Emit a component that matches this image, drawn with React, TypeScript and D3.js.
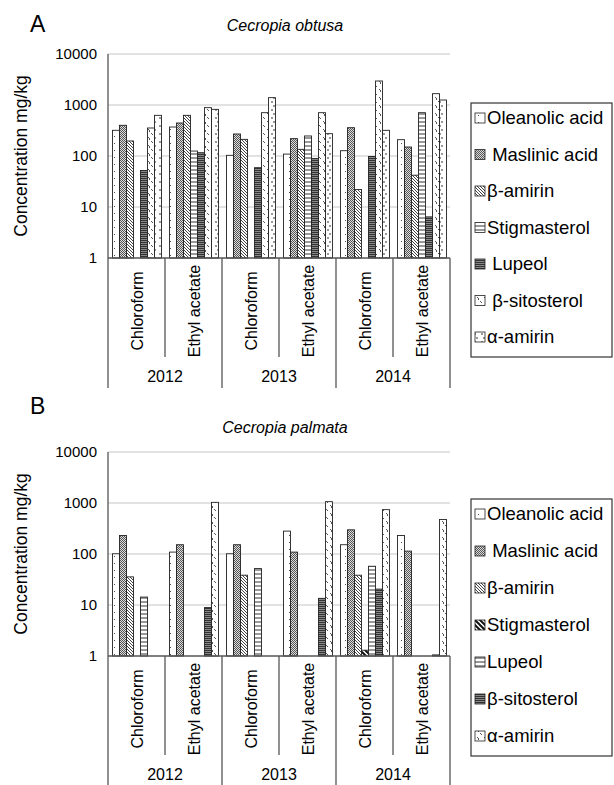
import React from 'react';
import * as d3 from 'd3';

// categories on the x axis
const years = ['2012', '2013', '2014'];
const solvents = ['Chloroform', 'Ethyl acetate'];
const categories = years.flatMap((y) => solvents.map((s) => `${y}|${s}`));

const seriesNames = ['Oleanolic acid', 'Maslinic acid', 'β-amirin', 'Stigmasterol', 'Lupeol', 'β-sitosterol', 'α-amirin'];
const legendLabelsA = ['Oleanolic acid', ' Maslinic acid', 'β-amirin', 'Stigmasterol', ' Lupeol', ' β-sitosterol', 'α-amirin'];
const legendLabelsB = ['Oleanolic acid', ' Maslinic acid', 'β-amirin', 'Stigmasterol', 'Lupeol', 'β-sitosterol', 'α-amirin'];
const yTicks = [1, 10, 100, 1000, 10000];

// Cecropia obtusa (mg/kg), order = categories, null = not detected
const oleanolicA = [319, 370, 103, 109, 127, 209];
const maslinicA = [400, 444, 270, 219, 359, 150];
const bAmirinA = [197, 627, 212, 135, 22, 42];
const stigmasterolA = [null, 125, null, 247, null, 707];
const lupeolA = [52, 116, 59, 89, 98, 6.4];
const bSitosterolA = [354, 887, 707, 707, 2955, 1667];
const aAmirinA = [627, 822, 1393, 274, 319, 1253];

// Cecropia palmata (mg/kg)
const oleanolicB = [101, 109, 101, 281, 152, 231];
const maslinicB = [231, 152, 152, 109, 298, 114];
const bAmirinB = [35.6, null, 38.4, null, 38.4, null];
const stigmasterolB = [null, null, null, null, 1.3, null];
const lupeolB = [14.3, null, 51.8, null, 57.5, null];
const bSitosterolB = [null, 8.9, null, 13.5, 20.5, 1.05];
const aAmirinB = [null, 1030, null, 1062, 741, 474];

const valuesA = [oleanolicA, maslinicA, bAmirinA, stigmasterolA, lupeolA, bSitosterolA, aAmirinA];
const valuesB = [oleanolicB, maslinicB, bAmirinB, stigmasterolB, lupeolB, bSitosterolB, aAmirinB];

// fill pattern per series in each panel
const patternsA = ['p-dots', 'p-check', 'p-diag', 'p-hline', 'p-dense', 'p-wave', 'p-dash'];
const patternsB = ['p-dots', 'p-check', 'p-diag', 'p-bold', 'p-hline', 'p-dense', 'p-wave'];

const FONT = '"Liberation Sans", Arial, Helvetica, sans-serif';
const W = 614;
const H = 785;
const LEFT = 108;
const RIGHT = 450;

function Patterns() {
  return (
    <defs>
      <pattern id="p-dots" width="7" height="7" patternUnits="userSpaceOnUse">
        <rect width="7" height="7" fill="#fff" />
        <rect x="2" y="3" width="1" height="1" fill="#555" />
      </pattern>
      <pattern id="p-check" width="2" height="2" patternUnits="userSpaceOnUse">
        <rect width="2" height="2" fill="#ddd" />
        <rect width="1" height="1" fill="#555" />
        <rect x="1" y="1" width="1" height="1" fill="#555" />
      </pattern>
      <pattern id="p-diag" width="3" height="3" patternUnits="userSpaceOnUse">
        <rect width="3" height="3" fill="#fff" />
        <path d="M-1,-1 L4,4 M-1,2 L1,4 M2,-1 L4,1" stroke="#444" strokeWidth="1" />
      </pattern>
      <pattern id="p-bold" width="5" height="5" patternUnits="userSpaceOnUse">
        <rect width="5" height="5" fill="#fff" />
        <path d="M-1,-1 L6,6 M-1,4 L1,6 M4,-1 L6,1" stroke="#111" strokeWidth="2" />
      </pattern>
      <pattern id="p-hline" width="4" height="4" patternUnits="userSpaceOnUse">
        <rect width="4" height="4" fill="#fff" />
        <rect y="1.5" width="4" height="1" fill="#333" />
      </pattern>
      <pattern id="p-dense" width="4" height="2" patternUnits="userSpaceOnUse">
        <rect width="4" height="2" fill="#888" />
        <rect width="4" height="1" fill="#333" />
      </pattern>
      <pattern id="p-wave" width="7" height="8" patternUnits="userSpaceOnUse">
        <rect width="7" height="8" fill="#fff" />
        <path d="M1,1 L3,3 L2,4 M4,5 L6,7" stroke="#444" strokeWidth="0.9" fill="none" />
      </pattern>
      <pattern id="p-dash" width="7" height="8" patternUnits="userSpaceOnUse">
        <rect width="7" height="8" fill="#fff" />
        <path d="M0,2 L2,2 M5,6 L7,6" stroke="#333" strokeWidth="1" />
      </pattern>
    </defs>
  );
}

function Panel({ top, letter, letterY, title, titleY, values, patterns, legendLabels, legendTop, legendStep, yearTickEnd }) {
  const y = d3.scaleLog().domain([1, 10000]).range([top + 204, top]);
  const base = y(1);
  const x0 = d3.scaleBand().domain(categories).range([LEFT, RIGHT]);
  const x1 = d3.scaleBand().domain(seriesNames).range([4.5, x0.bandwidth() - 3.5]);
  const catW = x0.bandwidth();

  const legendBottom = legendTop + legendStep * 6 + 20;

  return (
    <g fontFamily={FONT}>
      <text x={30} y={letterY} fontSize={23}>{letter}</text>
      <text x={(LEFT + RIGHT) / 2 + 6} y={titleY} fontSize={16} fontStyle="italic" textAnchor="middle">{title}</text>

      {/* grid */}
      {yTicks.slice(1).map((t) => (
        <line key={t} x1={LEFT} x2={RIGHT} y1={y(t)} y2={y(t)} stroke="#d9d9d9" strokeWidth={1.5} />
      ))}
      {yTicks.map((t) => (
        <text key={t} x={97} y={y(t)} dy="0.35em" fontSize={15} textAnchor="end">{t}</text>
      ))}
      <text transform={`translate(27,${(top + base) / 2}) rotate(-90)`} fontSize={17.5} textAnchor="middle">Concentration mg/kg</text>

      {/* bars */}
      {values.map((vals, si) => (
        <g key={si}>
          {vals.map((v, ci) => v == null ? null : (
            <rect key={ci}
              x={x0(categories[ci]) + x1(seriesNames[si])}
              y={y(v)}
              width={x1.bandwidth()}
              height={base - y(v)}
              fill={`url(#${patterns[si]})`}
              stroke="#222" strokeWidth={0.9} />
          ))}
        </g>
      ))}

      {/* axes */}
      <line x1={LEFT} x2={LEFT} y1={top} y2={yearTickEnd} stroke="#555" strokeWidth={1.3} />
      <line x1={LEFT} x2={RIGHT} y1={base} y2={base} stroke="#555" strokeWidth={1.3} />
      {categories.map((c, i) => {
        const xr = x0(c) + catW;
        const isYearEnd = i % 2 === 1;
        return (
          <g key={c}>
            <line x1={xr} x2={xr} y1={base} y2={isYearEnd ? yearTickEnd : base + 99} stroke="#555" strokeWidth={1.3} />
            <text transform={`translate(${x0(c) + catW / 2 + 6},${base + 53}) rotate(-90)`} fontSize={16} textAnchor="middle">
              {c.split('|')[1]}
            </text>
          </g>
        );
      })}
      {years.map((yr, i) => (
        <text key={yr} x={x0(categories[i * 2]) + catW} y={base + 124} fontSize={16} textAnchor="middle">{yr}</text>
      ))}

      {/* legend */}
      <rect x={471} y={legendTop - 15} width={141} height={legendBottom - legendTop + 15} fill="#fff" stroke="#333" strokeWidth={1.2} />
      {legendLabels.map((l, i) => {
        const ly = legendTop + i * legendStep;
        return (
          <g key={l}>
            <rect x={475} y={ly - 5} width={10} height={10} fill={`url(#${patterns[i]})`} stroke="#222" strokeWidth={0.8} />
            <text x={487} y={ly} dy="0.35em" fontSize={18.5} style={{ whiteSpace: 'pre' }}>{l}</text>
          </g>
        );
      })}
    </g>
  );
}

export default function App() {
  return (
    <svg width={W} height={H} style={{ position: 'absolute', left: 0, top: 0, background: '#fff' }}>
      <Patterns />
      <rect width={W} height={H} fill="#fff" />
      <Panel top={54} letter="A" letterY={32} title="Cecropia obtusa" titleY={31}
        values={valuesA} patterns={patternsA} legendLabels={legendLabelsA}
        legendTop={118} legendStep={36.5} yearTickEnd={388} />
      <Panel top={452} letter="B" letterY={414} title="Cecropia palmata" titleY={433}
        values={valuesB} patterns={patternsB} legendLabels={legendLabelsB}
        legendTop={514} legendStep={37} yearTickEnd={790} />
    </svg>
  );
}
